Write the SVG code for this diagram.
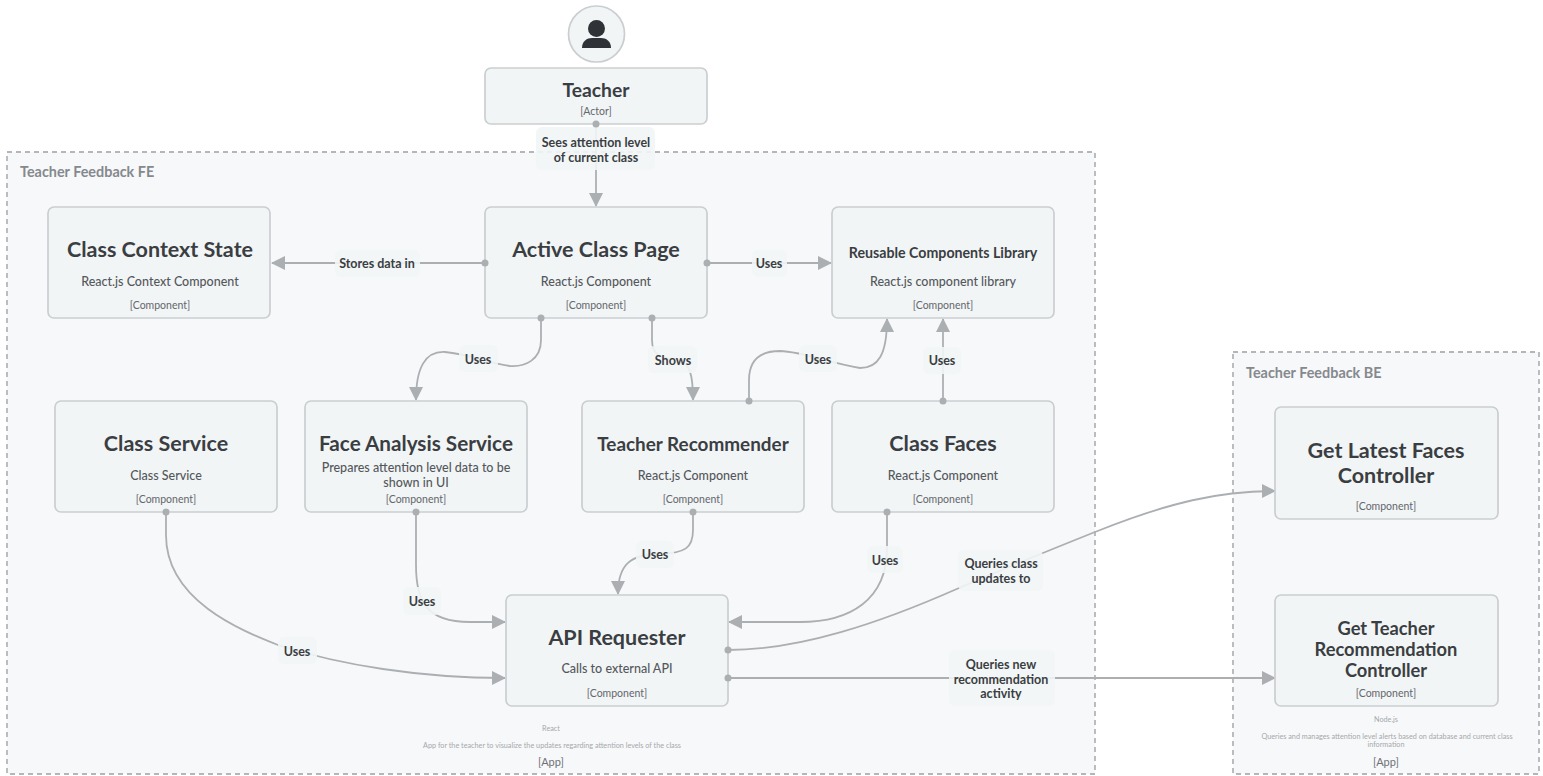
<svg xmlns="http://www.w3.org/2000/svg" width="1543" height="776" viewBox="0 0 1543 776">
<style>
text{font-family:Lato,"Noto Sans","Liberation Sans",sans-serif;text-anchor:middle;fill:#3a3e42}
.box{fill:#f2f5f6;stroke:#cbced1;stroke-width:1.7}
.grp{fill:#f7f8fa;stroke:#b4b6b9;stroke-width:1.8;stroke-dasharray:5 4}
.edge{fill:none;stroke:#acafb2;stroke-width:1.8}
.lb{fill:#f2f5f6;fill-opacity:.9}
.dot{fill:#acafb2}
.t1{font-size:21.5px;font-weight:700}
.d{font-size:12.5px;font-weight:500;fill:#54585c}
.k{font-size:10.5px;fill:#63676b}
.e{font-size:12.5px;font-weight:700}
.gt{font-size:14.4px;font-weight:700;fill:#85898d;text-anchor:start}
.s{font-size:7.25px;fill:#a5a8ab}
.a{font-size:11px;fill:#6d7175}
</style>
<defs>
<marker id="arr" markerUnits="userSpaceOnUse" markerWidth="14" markerHeight="14" refX="13" refY="7" orient="auto"><path d="M0 0L14 7L0 14Z" fill="#acafb2"/></marker>
</defs>
<g id="group-fe"><rect class="grp" x="7" y="152" width="1088" height="622"/><text class="gt" x="20" y="177">Teacher Feedback FE</text>
<text class="s" x="551" y="731">React</text><text class="s" x="552" y="748">App for the teacher to visualize the updates regarding attention levels of the class</text><text class="a" x="551" y="766">[App]</text></g>
<g id="group-be"><rect class="grp" x="1233" y="352" width="306" height="422"/><text class="gt" x="1246" y="378">Teacher Feedback BE</text>
<text class="s" x="1386" y="722">Node.js</text><text class="s" x="1387" y="739">Queries and manages attention level alerts based on database and current class</text><text class="s" x="1386" y="747">information</text><text class="a" x="1386" y="766">[App]</text></g>
<g id="connectors">
<path class="edge" marker-end="url(#arr)" d="M596 124V206"/>
<path class="edge" marker-end="url(#arr)" d="M485 263H272"/>
<path class="edge" marker-end="url(#arr)" d="M707 263H831"/>
<path class="edge" marker-end="url(#arr)" d="M541 318V340C541 360 525 367 510 366C490 364 470 354 445 352C425 351 416 368 416 400"/>
<path class="edge" marker-end="url(#arr)" d="M652 318V340C652 358 665 358 678 360C690 363 693 375 693 400"/>
<path class="edge" marker-end="url(#arr)" d="M749 401V380C749 358 762 351 780 351C805 352 825 362 860 368C878 368 887 355 887 319"/>
<path class="edge" marker-end="url(#arr)" d="M943 401V319"/>
<path class="edge" marker-end="url(#arr)" d="M166 512V535C166 600 240 630 278 645C340 665 420 678 505 678"/>
<path class="edge" marker-end="url(#arr)" d="M416 512V565C416 600 425 622 470 622H505"/>
<path class="edge" marker-end="url(#arr)" d="M693 512V530C693 548 685 553 660 554C630 554 618 565 618 594"/>
<path class="edge" marker-end="url(#arr)" d="M887 512V548C887 600 850 622 800 622H729"/>
<path class="edge" marker-end="url(#arr)" d="M728 650C800 650 880 623 959 588C1010 566 1050 550 1095 532C1170 502 1220 491 1275 491"/>
<path class="edge" marker-end="url(#arr)" d="M728 678H1275"/>
<rect class="lb" x="536" y="127" width="119" height="43" rx="6"/><text class="e" x="596" y="147">Sees attention level</text><text class="e" x="596" y="162">of current class</text>
<rect class="lb" x="335" y="250" width="85" height="27" rx="6"/><text class="e" x="377" y="268">Stores data in</text>
<rect class="lb" x="752" y="250" width="35" height="27" rx="6"/><text class="e" x="769" y="268">Uses</text>
<rect class="lb" x="459" y="345" width="39" height="27" rx="6"/><text class="e" x="478" y="364">Uses</text>
<rect class="lb" x="648" y="346" width="49" height="27" rx="6"/><text class="e" x="673" y="365">Shows</text>
<rect class="lb" x="799" y="345" width="38" height="27" rx="6"/><text class="e" x="818" y="364">Uses</text>
<rect class="lb" x="923" y="347" width="38" height="27" rx="6"/><text class="e" x="942" y="365">Uses</text>
<rect class="lb" x="278" y="637" width="39" height="27" rx="6"/><text class="e" x="297" y="656">Uses</text>
<rect class="lb" x="403" y="587" width="38" height="28" rx="6"/><text class="e" x="422" y="606">Uses</text>
<rect class="lb" x="636" y="541" width="38" height="27" rx="6"/><text class="e" x="655" y="559">Uses</text>
<rect class="lb" x="867" y="546" width="36" height="27" rx="6"/><text class="e" x="885" y="565">Uses</text>
<rect class="lb" x="958" y="550" width="85" height="41" rx="6"/><text class="e" x="1001" y="568">Queries class</text><text class="e" x="1001" y="583">updates to</text>
<rect class="lb" x="949" y="650" width="106" height="56" rx="6"/><text class="e" x="1001" y="669">Queries new</text><text class="e" x="1001" y="684">recommendation</text><text class="e" x="1001" y="698">activity</text>
</g>
<g id="teacher-icon"><circle cx="596.5" cy="34" r="28" class="box"/><path d="M582 48C582 41 587 38 592 38H601C606 38 611 41 611 48Z" fill="#2f3236"/><circle cx="596.5" cy="28.500" r="8.500" fill="#2f3236"/></g>
<g id="teacher"><rect class="box" x="485" y="68" width="222" height="56" rx="6"/><text class="t1" x="596" y="96.500" style="font-size:19.300px">Teacher</text><text class="k" x="596" y="115">[Actor]</text></g>
<g id="class-context"><rect class="box" x="48" y="207" width="222" height="111" rx="6"/><text class="t1" x="160" y="257">Class Context State</text><text class="d" x="160" y="286">React.js Context Component</text><text class="k" x="160" y="309">[Component]</text></g>
<g id="active-class"><rect class="box" x="485" y="207" width="222" height="111" rx="6"/><text class="t1" x="596" y="257">Active Class Page</text><text class="d" x="596" y="286">React.js Component</text><text class="k" x="596" y="309">[Component]</text></g>
<g id="reusable"><rect class="box" x="832" y="207" width="222" height="111" rx="6"/><text class="t1" x="943" y="258" style="font-size:14.200px">Reusable Components Library</text><text class="d" x="943" y="286">React.js component library</text><text class="k" x="943" y="309">[Component]</text></g>
<g id="class-service"><rect class="box" x="55" y="401" width="222" height="111" rx="6"/><text class="t1" x="166" y="451">Class Service</text><text class="d" x="166" y="480">Class Service</text><text class="k" x="166" y="503">[Component]</text></g>
<g id="face-analysis"><rect class="box" x="305" y="401" width="222" height="111" rx="6"/><text class="t1" x="416" y="451" style="font-size:20.700px">Face Analysis Service</text><text class="d" x="416" y="472">Prepares attention level data to be</text><text class="d" x="416" y="487">shown in UI</text><text class="k" x="416" y="503">[Component]</text></g>
<g id="recommender"><rect class="box" x="582" y="401" width="222" height="111" rx="6"/><text class="t1" x="693" y="451" style="font-size:18.900px">Teacher Recommender</text><text class="d" x="693" y="480">React.js Component</text><text class="k" x="693" y="503">[Component]</text></g>
<g id="class-faces"><rect class="box" x="832" y="401" width="222" height="111" rx="6"/><text class="t1" x="943" y="451">Class Faces</text><text class="d" x="943" y="480">React.js Component</text><text class="k" x="943" y="503">[Component]</text></g>
<g id="api"><rect class="box" x="506" y="595" width="222" height="111" rx="6"/><text class="t1" x="617" y="645">API Requester</text><text class="d" x="617" y="673">Calls to external API</text><text class="k" x="617" y="697">[Component]</text></g>
<g id="latest-faces"><rect class="box" x="1275" y="407" width="223" height="112" rx="6"/><text class="t1" x="1386" y="458">Get Latest Faces</text><text class="t1" x="1386" y="483">Controller</text><text class="k" x="1386" y="510">[Component]</text></g>
<g id="recommendation"><rect class="box" x="1275" y="595" width="223" height="111" rx="6"/><text class="t1" x="1386" y="635" style="font-size:18.300px">Get Teacher</text><text class="t1" x="1386" y="656" style="font-size:18.300px">Recommendation</text><text class="t1" x="1386" y="677" style="font-size:18.300px">Controller</text><text class="k" x="1386" y="697">[Component]</text></g>
<g id="connector-ends" class="dot"><circle cx="596" cy="124" r="3.500"/><circle cx="485" cy="263" r="3.500"/><circle cx="707" cy="263" r="3.500"/><circle cx="541" cy="318" r="3.500"/><circle cx="652" cy="318" r="3.500"/><circle cx="749" cy="401" r="3.500"/><circle cx="943" cy="401" r="3.500"/><circle cx="166" cy="512" r="3.500"/><circle cx="416" cy="512" r="3.500"/><circle cx="693" cy="512" r="3.500"/><circle cx="887" cy="512" r="3.500"/><circle cx="728" cy="650" r="3.500"/><circle cx="728" cy="678" r="3.500"/></g>
</svg>
